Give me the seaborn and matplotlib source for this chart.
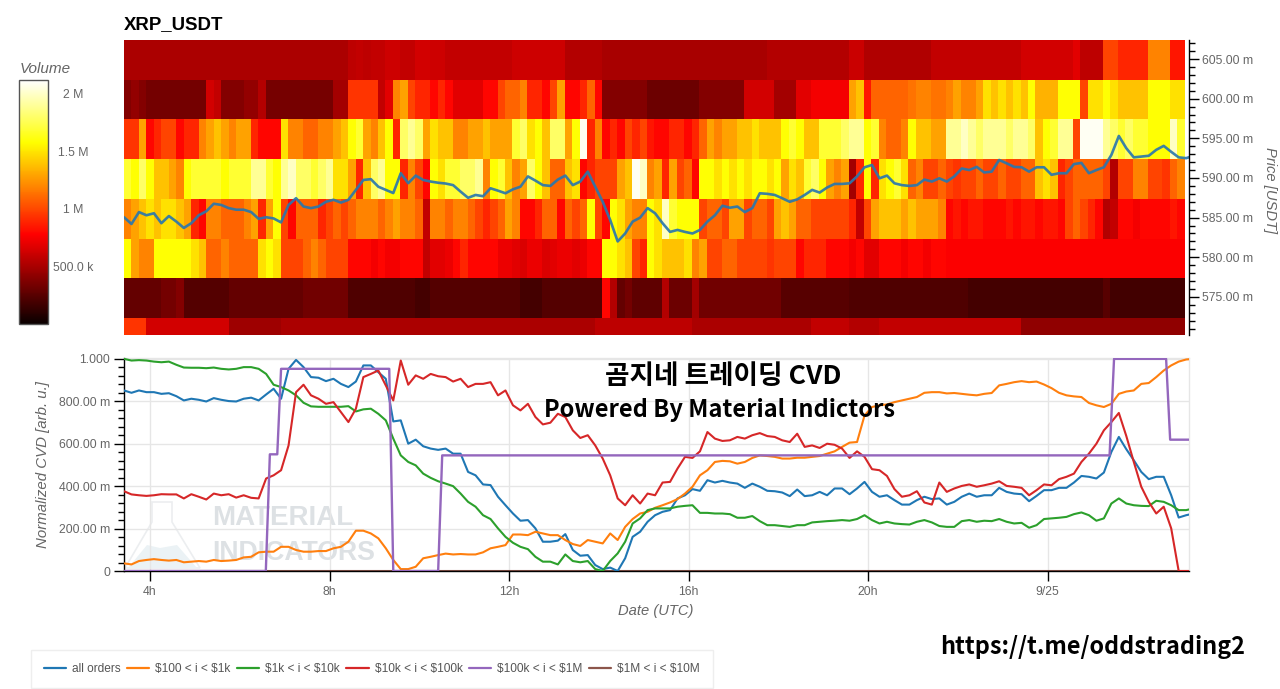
import numpy as np
import pandas as pd
import matplotlib
matplotlib.use("Agg")
import matplotlib.pyplot as plt
from matplotlib.patches import Polygon
from matplotlib.ticker import FixedLocator, FixedFormatter, NullFormatter
import seaborn as sns

# ---- data -----------------------------------------------------------------
price_levels = [605, 600, 595, 590, 585, 580, 575, 570]
price_ticks = [575, 580, 585, 590, 595, 600, 605]
cvd_ticks = [0, 0.2, 0.4, 0.6, 0.8, 1.0]
cvd_tick_labels = ["0", "200.00 m", "400.00 m", "600.00 m", "800.00 m", "1.000"]
time_ticks = [4, 8, 12, 16, 20, 24]
time_tick_labels = ["4h", "8h", "12h", "16h", "20h", "9/25"]
cbar_ticks = [0.5, 1.0, 1.5, 2.0]
cbar_tick_labels = ["500.0 k", "1 M", "1.5 M", "2 M"]

# volume per 10-minute column, in units of 0.1 M
vol_605 = ([5.2]*30 + [5.8,6,5.8,6,6,6.3,6.3,6,6,6.5,6.5]
           + [6.3]*2 + [6]*9 + [6.3]*7 + [5.5]*5 + [5.1]*22 + [5.5]*11
           + [6.2]*2 + [5.4]*9 + [6]*12 + [6.5]*7 + [7] + [5.8]*3 + [10]*2 + [9]*4 + [12]*3 + [8.5]*2)
vol_600 = ([4,4.5,4] + [3.5]*8 + [6.5,6, 4,4,4,4.5,4.5, 5.5] + [3.6]*9 + [5,5] + [9.5]*4 + [6,7,12,13,10,9,9]
           + [8,9,8] + [7]*4 + [8,8,10,11,11,12,9,9,8,10,13,8,8,9,11,8] + [4]*6 + [3.2]*7 + [4]*6 + [6.5]*4 + [5]*3 + [7,7] + [7.5]*5
           + [13,14,8.5] + [11]*5 + [11.5,12,12,11.5,11.5,12,13,12,12,13,15,14,15,14,15,14,16,13.5,13.5,13.5,16,16,16,10,15,15,16,15,14,14,14,14,16,16,16,15,15])
vol_595 = ([9.5,9.5,13,8,9,10,10,8,9,9,12,13,14,13,12,13,13,9,8,8,8,15,12,12,11,11,12,12,13,14,16,17,13,12,14,16,9,18,19,18,13]
           + [15,14,14,12,12,13,13,14,13,13,13,17,18,15,16,14,18,18,13,16,21,9,12,8,9,8,10,9,10,8.5,8,8,9,9,8,9,11,13,12,13,13,14,14,15,14,14,14,16,17,16,14,14,17,17,17,18]
           + [19,19,16,17,12,11,11,12,16,14,14,13,13,19,19,20,19,18,19,19,19,18,19,19,18,14,16,17,19,19,10,21,21,21,19,18,17,18,17,17,16,16,16,20,17])
vol_590 = ([17,16,18,16,14,14,13,12,16,17,17,17,17,16,17,17,17,19,19,17,16,19,20,18,18,17,18,19,15,15,13,9,14,18,19,16,16,9,12,10,8]
           + [16,15,17,17,18,18,19,12,16,17,14,12,13,18,16,14,11,11,14,15,8,9,10,10,10,13,14,21,20,12,13,9,13,10,11,8,16,16,15,16,15,16,15,16,16,15,16,13,15,14,17,18,16,13,12,13]
           + [5,9,16,9,15,16,17,15,11,12,10,10,11,10,9.5,10,10,11,10,10,11,10,10,11,11,14,15,14,9,10,11,11,11,11,10,5.5,10,10,12,12,10,10,9.5,11,12])
vol_585 = ([12,13,14,15,14,15,15,14,13,9,8,12,12,11,11,11,12,13,9,13,16,10,8,11,11,11,9,10,11,10,11,12,12,12,11,12,13,12,12,11,6]
           + [12,12,11,12,12,11,10,9,10,11,13,12,8,8,9,11,11,8,11,10,11,16,10,8,16,15,13,12,12,16,15,20,17,16,16,16,10,11,11,10,13,13,10,11,11,10,13,14,13,11,11,10,10,10,10,10]
           + [9,6,10,13,14,14,14,13,14,13,13,13,12,8,8.5,8,8.5,8.5,8,8,8,8.5,8,8.5,8.5,8,8.5,8.5,8,10,11,10,9,8,5.5,6,8,8,7.5,8,8,8,8,8.5,8])
vol_580 = ([16,13,12,12,16,16,16,16,16,15,14,11,11,12,11,11,11,11,15,16,15,10,10,10,11,12,11,10,10,10,8,8,8,7.5,8,7.5,7.5,8,8,8,6]
           + [7,7,7.3,8,9,8,8,8,8,7.3,7.3,7,6.7,7.3,7.3,6.7,7,7.3,7.3,7,7.3,8,8,16,16,15,14,10,9,16,15,14,14,14,15,12,13,10,10,11,11,10,10,10,10,9.5,10,10,10,8,9,9,9,8,8,8]
           + [7.5,8,7,7,8,8,8,7.5,8,8,7.5,8,8] + [7.8]*32)
vol_575 = ([3]*5 + [3.5]*2 + [4] + [2.5]*6 + [3]*10 + [3.4]*6 + [2.3]*9 + [2]*2
           + [2.5]*12 + [2]*3 + [2.5]*7 + [2.5,8,5.5,3,3.5] + [2.8]*4 + [5.5] + [3.2]*3 + [5] + [3.4]*11 + [2.6]*9
           + [2.3]*16 + [2]*18 + [2.6] + [1.9]*10)
vol_570 = ([9.5]*3 + [6.5]*11 + [4.8]*7 + [5.2]*20
           + [5.2]*22 + [5.8]*13 + [5.2]*16 + [6]*5
           + [5.5]*4 + [6]*19 + [4.4]*22)

# price on a 10-minute grid, in thousandths of USDT
price = [585.05,584.2,585.7,585.3,585.55,584.3,585.2,584.5,583.7,584.3,585.3,585.8,586.75,586.6,586.2,586,586,585.7,584.85,585.05,584.9,584.4,
         586.6,587.45,586.4,586.2,586.4,587,587.25,586.9,587.25,588.5,589.75,589.85,588.9,588.5,588.1,590.6,589.35,590.3,589.75,
         589.55,589.4,589.3,589.1,588.28,587.5,587.86,587.7,588.7,588.4,588.07,588.57,588.9,590.2,589.67,589.1,589,589.8,590.3,589.1,589.55,590.8,588.9,587,584.7,582,583,584.5,585,586.2,585.55,584.3,583.2,583.45,583.2,583,583.45,584.5,585.3,586.5,586.25,586.4,585.7,586.2,588.07,588,587.86,587.44,587,587.3,587.86,588.5,588.16,588.8,589.25,589.25,
         589.33,590.2,591.35,591.64,589.96,590.3,589.33,589.1,589,589.1,589.8,589.55,589.96,589.55,590.2,591.2,591,591.4,590.7,590.8,592.27,591.85,591.4,591.35,590.8,591.35,591.35,590.4,590.6,590.6,591.75,591.9,590.6,591,591.35,592.9,595.3,593.75,592.6,592.7,592.8,593.55,594.05,593.3,592.6,592.5,592.8]

# normalized CVD, in milli-units, 10-minute grid
cvd_all = [851,840,851,843,843,835,838,824,804,812,807,799,815,807,801,799,812,817,804,832,859,812,953,995,961,914,911,895,906,882,867,893,969,969,937,906,705,710,600,619,588,
           577,571,577,553,553,467,451,408,405,350,310,271,237,240,201,138,138,143,174,99,72,75,28,9,16,0,60,161,185,232,263,279,287,342,357,386,378,428,417,425,417,412,392,412,397,378,376,370,353,384,353,357,373,357,389,389,362,
           389,420,373,350,357,334,313,313,334,350,339,342,313,326,350,365,350,357,357,392,373,365,362,329,354,381,381,392,392,417,448,444,436,464,561,632,574,522,467,433,444,444,357,252,263,271]
cvd_100_1k = [36,31,47,52,56,52,49,52,41,44,47,44,52,47,49,52,64,67,88,91,91,114,114,99,91,91,94,94,107,114,138,190,190,177,154,107,52,9,9,20,60,
              67,75,82,78,80,78,78,88,107,114,122,172,172,169,185,177,169,169,146,127,118,146,138,130,177,146,208,245,271,279,298,310,323,339,365,397,451,475,514,519,517,506,514,533,545,542,538,530,530,534,534,538,542,553,564,585,605,
              608,733,773,781,785,796,804,812,820,840,843,843,837,839,835,831,828,835,839,875,882,890,895,890,893,879,862,840,828,823,820,792,781,773,788,835,846,851,882,886,914,945,969,987,997,1000]
cvd_1k_10k = [1000,992,994,992,987,984,987,972,959,958,958,956,959,953,950,953,961,961,953,929,878,867,851,828,793,776,774,774,774,774,777,752,762,765,741,710,624,545,514,498,459,
              439,423,412,400,365,326,303,263,245,201,161,133,114,103,67,44,44,31,78,47,41,47,9,0,47,83,138,224,248,287,295,295,295,303,307,310,274,274,271,271,268,251,251,259,235,216,216,212,208,216,216,229,232,235,237,240,237,
              245,263,240,224,232,224,221,219,232,240,229,212,208,208,235,240,232,237,235,245,232,224,227,204,216,245,248,251,255,268,276,263,237,248,318,342,318,310,307,306,331,326,310,287,287,295]
cvd_10k_100k = [376,361,357,354,357,362,361,361,342,362,350,337,365,357,362,346,357,345,342,436,451,475,592,843,878,828,812,788,796,749,702,765,914,929,945,875,804,992,878,922,906,
                929,918,914,893,906,867,882,882,890,828,851,781,757,788,726,691,699,741,726,663,627,640,592,530,451,342,310,357,318,365,357,417,420,483,538,533,564,655,624,613,616,632,624,640,650,636,632,616,608,647,585,592,580,600,595,577,533,
                564,538,480,475,448,386,350,357,376,323,313,417,373,389,401,408,397,404,412,423,401,397,392,357,381,408,404,433,444,459,514,553,600,663,702,745,636,514,397,326,271,303,201,0,0,0]
cvd_1m_10m = [0]*144

# $100k < i < $1M bucket has long flat runs, so it keeps its own change points
step_hours = [3.42, 6.58, 6.67, 6.835, 6.92, 9.33, 9.42, 10.42, 10.51, 25.38, 25.48, 26.64, 26.73, 27.15]
step_cvd = [0, 0, 550, 550, 953, 953, 0, 0, 545, 545, 1000, 1000, 619, 619]

series_labels = ["all orders", r"\$100 < i < \$1k", r"\$1k < i < \$10k", r"\$10k < i < \$100k",
                 r"\$100k < i < \$1M", r"\$1M < i < \$10M"]
series_colors = ["#1f77b4", "#ff7f0e", "#2ca02c", "#d62728", "#9467bd", "#8c564b"]

# ---- setup ----------------------------------------------------------------
sns.set_style("white")
plt.rcParams["font.family"] = ["Liberation Sans", "Noto Sans CJK KR", "DejaVu Sans"]
W, H = 1280, 689
GRAY = "#666666"
fig = plt.figure(figsize=(W / 100, H / 100), dpi=100, facecolor="white")


def rect(x0, y0, x1, y1):
    return [x0 / W, 1 - y1 / H, (x1 - x0) / W, (y1 - y0) / H]


hours = 3.42 + np.arange(len(price)) / 6
volume = pd.DataFrame([vol_605, vol_600, vol_595, vol_590, vol_585, vol_580, vol_575, vol_570],
                      index=price_levels) / 10

# ---- heatmap --------------------------------------------------------------
ax_heat = fig.add_axes(rect(124, 40, 1189, 335))
ax_cbar = fig.add_axes(rect(19, 80, 48, 324))
sns.heatmap(volume, ax=ax_heat, cmap="hot", vmin=0.014, vmax=2.13, cbar_ax=ax_cbar,
            xticklabels=False, yticklabels=False)
ax_heat.set_xlim(0, 142.55)
ax_heat.set_ylim(7.43, 0)
ax_heat.tick_params(left=False, bottom=False)

cb = ax_heat.collections[0].colorbar
cb.set_ticks(cbar_ticks)
cb.set_ticklabels([])
cb.ax.tick_params(direction="in", length=5, width=1, color="#333333", right=True)
cb.outline.set_visible(True)
cb.outline.set_edgecolor("#555555")
cb.outline.set_linewidth(1)
for v, lab in zip(cbar_ticks, cbar_tick_labels):
    cb.ax.annotate(lab, (1, v), xycoords=("axes fraction", "data"), xytext=(73, 0),
                   textcoords=("figure pixels", "offset pixels"), ha="center", va="center",
                   fontsize=8.8, color=GRAY)
fig.text(45 / W, 1 - 69 / H, "Volume", fontsize=11, style="italic", color=GRAY, ha="center", va="center")

# price overlay on true time / price scales
ax_price = fig.add_axes(rect(124, 40, 1189, 335), facecolor="none")
sns.lineplot(x=hours, y=price, ax=ax_price, color="#2a77ad", linewidth=1.9, alpha=0.92,
             estimator=None, errorbar=None)
ax_price.set_xlim(3.42, 27.15)
ax_price.set_ylim(570.2, 607.4)
ax_price.set_xticks([])
ax_price.yaxis.tick_right()
ax_price.yaxis.set_major_locator(FixedLocator(price_ticks))
ax_price.yaxis.set_major_formatter(FixedFormatter([f"{p}.00 m" for p in price_ticks]))
ax_price.yaxis.set_minor_locator(FixedLocator(np.arange(571, 608)))
ax_price.yaxis.set_minor_formatter(NullFormatter())
ax_price.tick_params(axis="y", which="major", right=True, length=7, width=1, color="black",
                     labelsize=8.8, labelcolor=GRAY, pad=2)
ax_price.tick_params(axis="y", which="minor", right=True, length=4, width=1, color="black")
for side, sp in ax_price.spines.items():
    sp.set_visible(side == "right")
ax_price.spines["right"].set_color("black")
ax_price.spines["right"].set_linewidth(1)
ax_price.set_ylabel("")
fig.text(1270 / W, 1 - 190 / H, "Price [USDT]", rotation=270, fontsize=10.6, style="italic",
         color=GRAY, ha="center", va="center")
fig.text(124 / W, 1 - 25 / H, "XRP_USDT", fontsize=13.4, fontweight="bold", color="black", ha="left", va="center")

# ---- CVD panel ------------------------------------------------------------
ax_cvd = fig.add_axes(rect(124, 358, 1189, 571), facecolor="none")
ax_cvd.set_axisbelow(True)
ax_cvd.grid(True, color="#e6e6e6", linewidth=1)
for lab, col, vals in zip(series_labels[:4], series_colors[:4], [cvd_all, cvd_100_1k, cvd_1k_10k, cvd_10k_100k]):
    sns.lineplot(x=hours, y=np.array(vals) / 1000, ax=ax_cvd, color=col, linewidth=1.5, label=lab,
                 estimator=None, errorbar=None, zorder=3)
sns.lineplot(x=step_hours, y=np.array(step_cvd) / 1000, ax=ax_cvd, color=series_colors[4], linewidth=1.7,
             label=series_labels[4], estimator=None, errorbar=None, zorder=4)
sns.lineplot(x=hours, y=np.array(cvd_1m_10m) / 1000, ax=ax_cvd, color=series_colors[5], linewidth=1.5,
             label=series_labels[5], estimator=None, errorbar=None, zorder=2)
ax_cvd.set_xlim(3.42, 27.15)
ax_cvd.set_ylim(0, 1.004)
ax_cvd.xaxis.set_major_locator(FixedLocator(time_ticks))
ax_cvd.xaxis.set_major_formatter(FixedFormatter(time_tick_labels))
ax_cvd.yaxis.set_major_locator(FixedLocator(cvd_ticks))
ax_cvd.yaxis.set_major_formatter(FixedFormatter(cvd_tick_labels))
ax_cvd.yaxis.set_minor_locator(FixedLocator(np.arange(0.04, 1.0, 0.04)))
ax_cvd.yaxis.set_minor_formatter(NullFormatter())
ax_cvd.tick_params(axis="both", which="major", length=7, width=1, color="black", left=True, bottom=True,
                   labelsize=8.8, labelcolor=GRAY, pad=3)
ax_cvd.tick_params(axis="y", which="minor", length=4, width=1, color="black", left=True)
ax_cvd.tick_params(axis="x", pad=4)
for side, sp in ax_cvd.spines.items():
    sp.set_visible(True)
    sp.set_color("black" if side in ("left", "bottom") else "#e6e6e6")
    sp.set_linewidth(1)
    sp.set_zorder(2.5)
ax_cvd.set_xlabel("")
ax_cvd.set_ylabel("")
fig.text(656 / W, 1 - 611 / H, "Date (UTC)", fontsize=10.6, style="italic", color=GRAY, ha="center", va="center")
fig.text(43 / W, 1 - 465 / H, "Normalized CVD [arb. u.]", rotation=90, fontsize=10.8, style="italic",
         color=GRAY, ha="center", va="center")

# legend
handles, labels = ax_cvd.get_legend_handles_labels()
if ax_cvd.legend_:
    ax_cvd.legend_.remove()
leg = fig.legend(handles, labels, loc="upper left", bbox_to_anchor=(31 / W, 1 - 650 / H), ncol=6, fontsize=8.6,
                 frameon=True, fancybox=False, edgecolor="#eeeeee", facecolor="white", labelcolor="#555555",
                 handlelength=1.85, handletextpad=0.5, columnspacing=0.54, borderpad=1.1, borderaxespad=0,
                 framealpha=1)
for h in leg.get_lines():
    h.set_linewidth(1.6)

# watermark behind the CVD lines
wm = "#dde1e4"
fig.text(212 / W, 1 - 518 / H, "MATERIAL", fontsize=20, fontweight="bold", color=wm, ha="left", va="center", zorder=-1)
fig.text(212 / W, 1 - 553 / H, "INDICATORS", fontsize=19.2, fontweight="bold", color=wm, ha="left", va="center", zorder=-1)


def fig_poly(points, **kw):
    pts = [(x / W, 1 - y / H) for x, y in points]
    fig.add_artist(Polygon(pts, closed=True, transform=fig.transFigure, zorder=-1, **kw))


fig_poly([(152, 502), (172, 502), (172, 522), (200, 568), (125, 568), (152, 522)],
         facecolor="none", edgecolor="#eceef0", linewidth=1.2)
fig_poly([(128, 568), (147, 545), (160, 548), (177, 545), (197, 568)], facecolor="#ebf2f5", edgecolor="none")

# overlaid captions
ckr = ["Noto Sans CJK KR", "DejaVu Sans"]
fig.text(723 / W, 1 - 376 / H, "곰지네 트레이딩 CVD", family=ckr, fontweight="bold", fontsize=19.2, color="black",
         ha="center", va="center", zorder=10)
fig.text(720 / W, 1 - 410 / H, "Powered By Material Indictors", family=ckr, fontweight="bold", fontsize=17,
         color="black", ha="center", va="center", zorder=10)
fig.text(1092.5 / W, 1 - 647 / H, "https://t.me/oddstrading2", family=ckr, fontweight="bold", fontsize=16.8,
         color="black", ha="center", va="center", zorder=10)

assert all(len(r) == 142 for r in volume.values)
fig.savefig("out.png", dpi=100, facecolor="white")
